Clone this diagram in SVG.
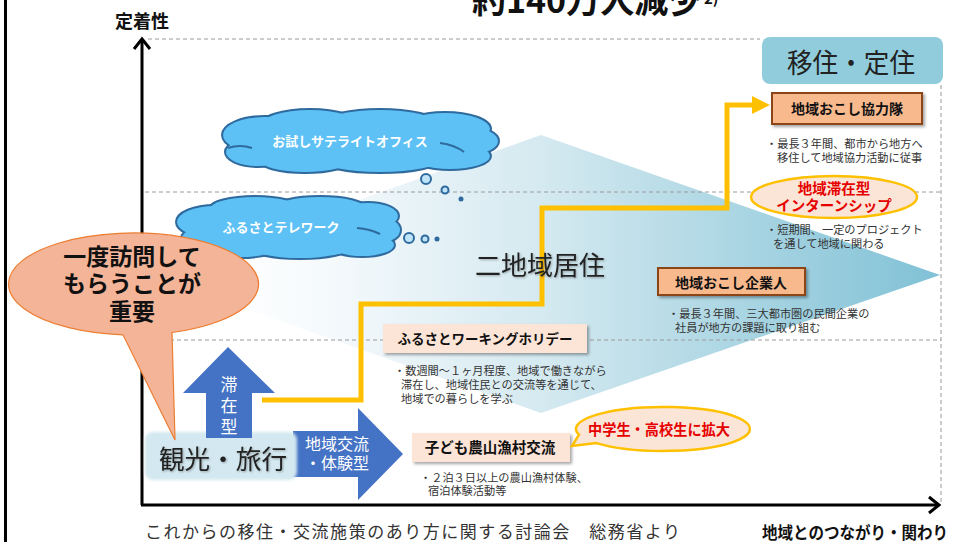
<svg xmlns="http://www.w3.org/2000/svg" width="953" height="542" viewBox="0 0 953 542">
<defs>
<style>
text{font-family:'Noto Sans CJK JP','Noto Sans',sans-serif;}
.b{font-weight:bold;}
.dash{stroke:#9a9a9a;stroke-width:1;stroke-dasharray:4 3;fill:none;}
.desc{font-size:11.2px;fill:#333;}
.box1{fill:#F8B98D;stroke:#8B4513;stroke-width:2;}
.box2{fill:#FCE4D6;}
.btxt{font-size:14px;font-weight:bold;fill:#111;text-anchor:middle;}
.cl{fill:#5DC1F5;}
.clo{fill:none;stroke:#2F6A9E;stroke-width:4;}
.ctxt{font-size:13px;font-weight:bold;fill:#fff;text-anchor:middle;}
.bub{fill:#BFE4F8;stroke:#2F6A9E;stroke-width:2;}
.oval{fill:#FBE5D6;stroke:#FFC000;stroke-width:2.5;}
.red{font-size:14.5px;font-weight:bold;fill:#E60000;text-anchor:middle;}
.blue{fill:#4472C4;}
.wt{fill:#fff;text-anchor:middle;}
</style>
<linearGradient id="gr" gradientUnits="userSpaceOnUse" x1="150" y1="0" x2="940" y2="0">
<stop offset="0" stop-color="#ffffff" stop-opacity="0"/>
<stop offset="0.25" stop-color="#F2F8FB"/>
<stop offset="0.5" stop-color="#D4E9F0"/>
<stop offset="1" stop-color="#80C1D6"/>
</linearGradient>
<filter id="sh" x="-10%" y="-20%" width="130%" height="160%">
<feDropShadow dx="2" dy="2" stdDeviation="1.5" flood-color="#000" flood-opacity="0.35"/>
</filter>
<filter id="ts" x="-5%" y="-20%" width="115%" height="150%">
<feDropShadow dx="1" dy="1" stdDeviation="1" flood-color="#000" flood-opacity="0.3"/>
</filter>
<filter id="soft" x="-10%" y="-20%" width="120%" height="140%">
<feGaussianBlur stdDeviation="1.5"/>
</filter>
</defs>

<rect x="0" y="0" width="953" height="542" fill="#fff"/>
<rect x="4" y="0" width="3" height="542" fill="#000"/>

<!-- title (cut off at the top edge) -->
<g id="title">
<text x="472" y="13" class="b" font-size="34" fill="#111">約140万人減少</text>
<text x="704" y="4" class="b" font-size="15" fill="#111">2)</text>
</g>

<!-- background rhombus -->
<polygon id="nichiiki-area" points="150,275 541,135 940,275 541,413" fill="url(#gr)"/>

<!-- dashed guide lines -->
<g id="guides">
<line class="dash" x1="148" y1="39" x2="760" y2="39"/>
<line class="dash" x1="145" y1="192" x2="941" y2="192"/>
<line class="dash" x1="142" y1="340" x2="941" y2="340"/>
<line class="dash" x1="941" y1="85" x2="941" y2="505"/>
</g>

<!-- axes -->
<g id="axes" stroke="#000" stroke-width="3" fill="none">
<line x1="142" y1="505" x2="142" y2="40"/>
<polyline points="134,49 142,39 150,49"/>
<line x1="141" y1="505" x2="938" y2="505"/>
<polyline points="929,497 939,505 929,513"/>
</g>
<text x="115" y="28" class="b" font-size="18" fill="#111">定着性</text>
<text x="762" y="539" class="b" font-size="16.5" fill="#111" textLength="186" lengthAdjust="spacingAndGlyphs">地域とのつながり・関わり</text>
<text x="145" y="538" font-size="17" fill="#333" textLength="535" lengthAdjust="spacing">これからの移住・交流施策のあり方に関する討論会　総務省より</text>

<!-- clouds -->
<g id="cloud-office">
<g class="clo">
<ellipse cx="265" cy="135" rx="42" ry="18"/>
<ellipse cx="258" cy="152" rx="32" ry="14"/>
<ellipse cx="310" cy="126" rx="50" ry="16"/>
<ellipse cx="380" cy="123" rx="55" ry="13"/>
<ellipse cx="445" cy="129" rx="45" ry="16"/>
<ellipse cx="471" cy="141" rx="27" ry="13"/>
<ellipse cx="450" cy="156" rx="40" ry="13"/>
<ellipse cx="380" cy="159" rx="60" ry="13"/>
<ellipse cx="305" cy="160" rx="45" ry="12"/>
</g>
<g class="cl">
<ellipse cx="265" cy="135" rx="42" ry="18"/>
<ellipse cx="258" cy="152" rx="32" ry="14"/>
<ellipse cx="310" cy="126" rx="50" ry="16"/>
<ellipse cx="380" cy="123" rx="55" ry="13"/>
<ellipse cx="445" cy="129" rx="45" ry="16"/>
<ellipse cx="471" cy="141" rx="27" ry="13"/>
<ellipse cx="450" cy="156" rx="40" ry="13"/>
<ellipse cx="380" cy="159" rx="60" ry="13"/>
<ellipse cx="305" cy="160" rx="45" ry="12"/>
<ellipse cx="360" cy="141" rx="110" ry="22"/>
</g>
<path d="M228,148 Q240,144 252,148 M440,143 Q455,145 464,152" fill="none" stroke="#2F6A9E" stroke-width="2"/>
<text class="ctxt" x="350" y="146">お試しサテライトオフィス</text>
<circle class="bub" cx="426" cy="179" r="5"/>
<circle class="bub" cx="445" cy="190" r="3.5"/>
<circle cx="461" cy="199" r="2.5" fill="#2F6A9E"/>
</g>

<g id="cloud-telework">
<g class="clo">
<ellipse cx="215" cy="222" rx="38" ry="16"/>
<ellipse cx="212" cy="238" rx="30" ry="12"/>
<ellipse cx="255" cy="209" rx="45" ry="12"/>
<ellipse cx="320" cy="208" rx="45" ry="11"/>
<ellipse cx="368" cy="216" rx="30" ry="13"/>
<ellipse cx="382" cy="230" rx="18" ry="12"/>
<ellipse cx="362" cy="245" rx="32" ry="11"/>
<ellipse cx="300" cy="247" rx="50" ry="11"/>
<ellipse cx="240" cy="246" rx="40" ry="11"/>
</g>
<g class="cl">
<ellipse cx="215" cy="222" rx="38" ry="16"/>
<ellipse cx="212" cy="238" rx="30" ry="12"/>
<ellipse cx="255" cy="209" rx="45" ry="12"/>
<ellipse cx="320" cy="208" rx="45" ry="11"/>
<ellipse cx="368" cy="216" rx="30" ry="13"/>
<ellipse cx="382" cy="230" rx="18" ry="12"/>
<ellipse cx="362" cy="245" rx="32" ry="11"/>
<ellipse cx="300" cy="247" rx="50" ry="11"/>
<ellipse cx="240" cy="246" rx="40" ry="11"/>
<ellipse cx="287" cy="228" rx="95" ry="20"/>
</g>
<path d="M357,228 Q370,229 380,234" fill="none" stroke="#2F6A9E" stroke-width="2"/>
<text class="ctxt" x="281" y="232">ふるさとテレワーク</text>
<circle class="bub" cx="409" cy="238" r="5"/>
<circle class="bub" cx="425" cy="239" r="3.5"/>
<circle cx="437" cy="239" r="2.5" fill="#2F6A9E"/>
</g>

<!-- connectors -->
<g id="connectors">
<polyline points="262,400 361,400 361,304 542,304 542,208 727,208 727,105 754,105" fill="none" stroke="#FFC000" stroke-width="5" stroke-linejoin="miter"/>
<polygon points="752,96 770,105 752,114" fill="#FFC000"/>
<polygon id="arrow-stay" class="blue" points="228,347 275,393 252,393 252,438 206,438 206,393 183,393"/>
<polygon id="arrow-exchange" class="blue" points="293,431 358,431 358,408 403,454 358,500 358,477 293,477"/>
</g>

<!-- 二地域居住 label -->
<text id="nichiiki" x="540" y="275" font-size="26" fill="#222" text-anchor="middle" filter="url(#ts)">二地域居住</text>

<!-- 移住・定住 -->
<g id="iju">
<rect x="762" y="37" width="181" height="47" rx="8" fill="#90CCDC"/>
<text x="787" y="73" font-size="27" fill="#222" textLength="128" lengthAdjust="spacingAndGlyphs">移住・定住</text>
</g>

<g id="kyoryokutai">
<rect class="box1" x="772" y="93" width="150" height="31" filter="url(#sh)"/>
<text class="btxt" x="847" y="114">地域おこし協力隊</text>
<text class="desc" x="766" y="148">・最長３年間、都市から地方へ</text>
<text class="desc" x="777" y="162">移住して地域協力活動に従事</text>
</g>

<g id="internship">
<ellipse class="oval" cx="834" cy="197" rx="83" ry="21"/>
<text class="red" x="834" y="194">地域滞在型</text>
<text class="red" x="834" y="211">インターンシップ</text>
<text class="desc" x="766" y="234">・短期間、一定のプロジェクト</text>
<text class="desc" x="773" y="248">を通して地域に関わる</text>
</g>

<g id="kigyojin">
<rect class="box1" x="658" y="268" width="147" height="27" filter="url(#sh)"/>
<text class="btxt" x="731" y="288">地域おこし企業人</text>
<text class="desc" x="668" y="318">・最長３年間、三大都市圏の民間企業の</text>
<text class="desc" x="675" y="332">社員が地方の課題に取り組む</text>
</g>

<g id="workingholiday">
<rect class="box2" x="383" y="324" width="204" height="29" filter="url(#sh)"/>
<text class="btxt" x="485" y="344" style="font-size:13.5px">ふるさとワーキングホリデー</text>
<text class="desc" x="394" y="375">・数週間～１ヶ月程度、地域で働きながら</text>
<text class="desc" x="401" y="389">滞在し、地域住民との交流等を通じて、</text>
<text class="desc" x="401" y="403">地域での暮らしを学ぶ</text>
</g>

<g id="kodomo">
<rect class="box2" x="412" y="433" width="158" height="29" filter="url(#sh)"/>
<text class="btxt" x="490" y="453" style="font-size:14.5px">子ども農山漁村交流</text>
<text class="desc" x="420" y="482">・２泊３日以上の農山漁村体験、</text>
<text class="desc" x="428" y="495">宿泊体験活動等</text>
</g>

<g id="expand">
<path class="oval" d="M596.4,443.1 A87,22 0 1 0 579,434.7 L572,446 Z"/>
<text x="588" y="435" class="b" font-size="15" fill="#E60000" textLength="142" lengthAdjust="spacingAndGlyphs">中学生・高校生に拡大</text>
</g>

<!-- 観光・旅行 -->
<g id="kanko">
<rect x="145" y="432" width="152" height="48" rx="8" fill="#D3E8F0" filter="url(#soft)"/>
<text x="159" y="469" font-size="26" fill="#222" textLength="128" lengthAdjust="spacingAndGlyphs" filter="url(#ts)">観光・旅行</text>
</g>
<polygon class="blue" points="206,420 252,420 252,438 206,438"/>

<g id="stay-label" font-size="17">
<text class="wt" x="229" y="391">滞</text>
<text class="wt" x="229" y="412">在</text>
<text class="wt" x="229" y="433">型</text>
</g>
<g id="exchange-label" font-size="16">
<text class="wt" x="337" y="450">地域交流</text>
<text class="wt" x="337" y="469">・体験型</text>
</g>

<!-- speech bubble -->
<g id="visit-bubble">
<path d="M123,334.8 A125,51 0 1 1 172,332.5 L175,440 Z" fill="#F4B497" stroke="#ED7D31" stroke-width="1.2"/>
<text x="132" y="265" class="b" font-size="23" fill="#111" text-anchor="middle">一度訪問して</text>
<text x="132" y="292" class="b" font-size="23" fill="#111" text-anchor="middle">もらうことが</text>
<text x="132" y="320" class="b" font-size="23" fill="#111" text-anchor="middle">重要</text>
</g>
</svg>
